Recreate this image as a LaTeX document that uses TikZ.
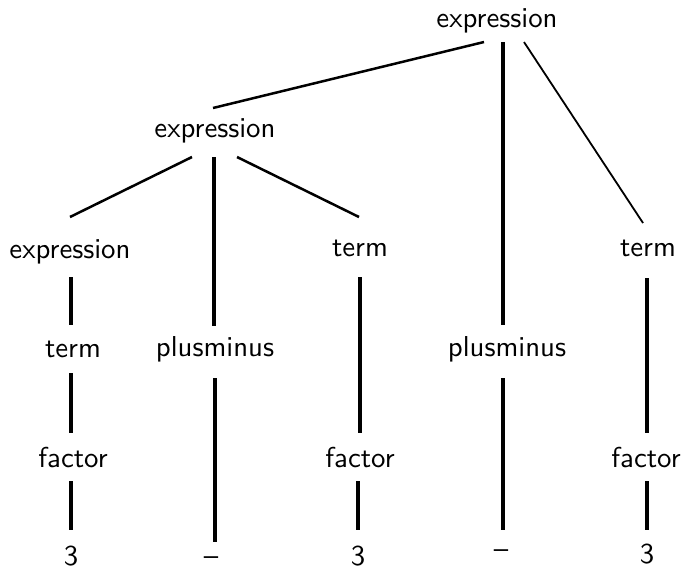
\documentclass[tikz,border=0pt]{standalone}
\begin{document}
\begin{tikzpicture}[x=1pt,y=-1pt,
  lbl/.style={anchor=base,inner sep=0pt,font=\sffamily\fontsize{10}{12}\selectfont,scale=2.88,transform shape},
  vline/.style={line width=4pt},
  dline/.style={line width=2.5pt},
  tline/.style={line width=1.8pt}]
\useasboundingbox (0,0) rectangle (685,571);
% nodes
\node[lbl] (root) at (497,27) {expression};
\node[lbl] (mid) at (215,137) {expression};
\node[lbl] (lexpr) at (70,258) {expression};
\node[lbl] (mterm) at (360,256) {term};
\node[lbl] (rterm) at (648,256) {term};
\node[lbl] (lterm) at (73,357) {term};
\node[lbl] (pmA) at (215,356) {plusminus};
\node[lbl] (pmB) at (507,356) {plusminus};
\node[lbl] (lfac) at (73,467) {factor};
\node[lbl] (mfac) at (360,467) {factor};
\node[lbl] (rfac) at (646,467) {factor};
\node[lbl] (lthree) at (71,565) {3};
\node[lbl] (dashA) at (211,565) {--};
\node[lbl] (mthree) at (358,565) {3};
\node[lbl] (dashB) at (501,558) {--};
\node[lbl] (rthree) at (647,563) {3};
% connectors
\draw[dline] ([shift={(-13,15)}]root.base) -- ([shift={(-2,-29)}]mid.base);
\draw[vline] ([shift={(6,15)}]root.base) -- ([shift={(-4,-31)}]pmB.base);
\draw[tline] ([shift={(27,15)}]root.base) -- ([shift={(-5,-33)}]rterm.base);
\draw[dline] ([shift={(-23,20)}]mid.base) -- ([shift={(0,-41)}]lexpr.base);
\draw[vline] ([shift={(-1,20)}]mid.base) -- ([shift={(-1,-30)}]pmA.base);
\draw[dline] ([shift={(22,20)}]mid.base) -- ([shift={(-1,-39)}]mterm.base);
\draw[vline] ([shift={(1,19)}]lexpr.base) -- ([shift={(-2,-32)}]lterm.base);
\draw[vline] ([shift={(0,21)}]mterm.base) -- ([shift={(0,-34)}]mfac.base);
\draw[vline] ([shift={(-1,22)}]rterm.base) -- ([shift={(1,-34)}]rfac.base);
\draw[vline] ([shift={(-2,16)}]lterm.base) -- ([shift={(-2,-34)}]lfac.base);
\draw[vline] ([shift={(0,22)}]pmA.base) -- ([shift={(4,-23)}]dashA.base);
\draw[vline] ([shift={(-4,22)}]pmB.base) -- ([shift={(2,-28)}]dashB.base);
\draw[vline] ([shift={(-2,14)}]lfac.base) -- ([shift={(0,-35)}]lthree.base);
\draw[vline] ([shift={(-2,14)}]mfac.base) -- ([shift={(0,-35)}]mthree.base);
\draw[vline] ([shift={(1,14)}]rfac.base) -- ([shift={(0,-33)}]rthree.base);
\end{tikzpicture}
\end{document}
